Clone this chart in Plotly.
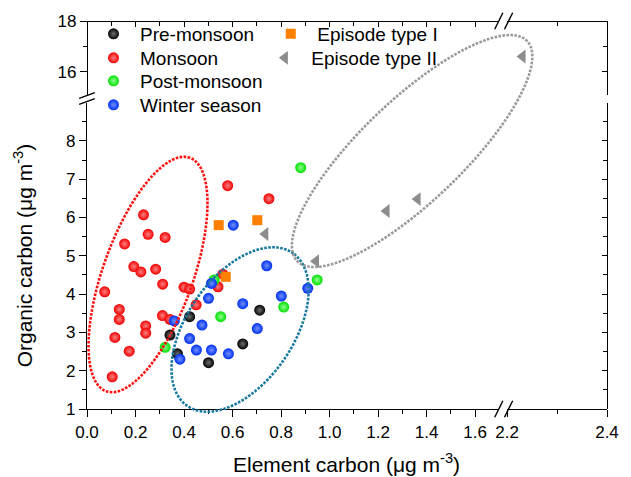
import numpy as np
import plotly.graph_objects as go

# ---------------- data (EC, OC in ug m-3) ----------------
pre_ec = [0.712, 0.423, 0.342, 0.642, 0.373, 0.501]
pre_oc = [3.58, 3.41, 2.93, 2.70, 2.44, 2.21]

mon_ec = [0.580, 0.750, 0.233, 0.252, 0.322, 0.155, 0.193, 0.222, 0.283, 0.312,
          0.560, 0.540, 0.400, 0.423, 0.073, 0.450, 0.311, 0.342, 0.133, 0.133,
          0.242, 0.242, 0.115, 0.174, 0.104]
mon_oc = [6.83, 6.49, 6.07, 5.56, 5.48, 5.31, 4.72, 4.58, 4.65, 4.26,
          4.52, 4.19, 4.18, 4.13, 4.06, 3.72, 3.44, 3.34, 3.60, 3.34,
          3.17, 2.98, 2.87, 2.51, 1.84]

post_ec = [0.881, 0.949, 0.524, 0.811, 0.551, 0.322]
post_oc = [7.30, 4.37, 4.37, 3.66, 3.41, 2.61]

win_ec = [0.603, 0.741, 0.513, 0.910, 0.501, 0.801, 0.642, 0.360, 0.474, 0.702,
          0.423, 0.451, 0.513, 0.583, 0.383]
win_oc = [5.80, 4.74, 4.28, 4.15, 3.89, 3.95, 3.75, 3.30, 3.19, 3.10,
          2.84, 2.54, 2.54, 2.44, 2.30]

ep1_ec = [0.543, 0.702, 0.572]
ep1_oc = [5.80, 5.93, 4.45]

ep2_ec = [0.735, 0.944, 1.235, 1.363, 2.231]
ep2_oc = [5.57, 4.86, 6.17, 6.48, 16.60]

x_ticks_left = [0.0, 0.2, 0.4, 0.6, 0.8, 1.0, 1.2, 1.4, 1.6]
x_ticks_right = [2.2, 2.4]
y_ticks_low = [1, 2, 3, 4, 5, 6, 7, 8]
y_ticks_high = [16, 18]

# ---------------- layout geometry ----------------
W, H = 631, 477
ML, MR, MT, MB = 87, 13, 21, 68
PW, PH = W - ML - MR, H - MT - MB
SX1, SX2, SY1, SY2 = 247.7, 510.0, 38.3, 25.35
X1R, X2R, Y1R, Y2R = [0, 1.7], [2.2, 2.4], [1, 9], [15.1, 18]
x1_dom = [0, (X1R[1] - X1R[0]) * SX1 / PW]
x2_dom = [1 - (X2R[1] - X2R[0]) * SX2 / PW, 1]
y1_dom = [0, (Y1R[1] - Y1R[0]) * SY1 / PH]
y2_dom = [1 - (Y2R[1] - Y2R[0]) * SY2 / PH, 1]

FONT = "Liberation Sans, Arial, sans-serif"
ITEMW = 43


def px2paper(x, y):
    """pixel in image coords -> paper coords of plot area"""
    return (x - ML) / PW, (H - MB - y) / PH


fig = go.Figure()

# (name, x, y, legend id, legend text-left px, legend row centre px, marker)
series = [
    ("Monsoon", mon_ec, mon_oc, "legend2", 140, 59,
     dict(symbol="circle", size=11, color="#f00000", gradient=dict(type="radial", color="#ff8080"))),
    ("Pre-monsoon", pre_ec, pre_oc, "legend", 140, 35,
     dict(symbol="circle", size=11, color="#000000", gradient=dict(type="radial", color="#707070"))),
    ("Post-monsoon", post_ec, post_oc, "legend3", 140, 82,
     dict(symbol="circle", size=11, color="#00e000", gradient=dict(type="radial", color="#90ff90"))),
    ("Winter season", win_ec, win_oc, "legend4", 140, 106,
     dict(symbol="circle", size=11, color="#0030f0", gradient=dict(type="radial", color="#7090ff"))),
    ("Episode type I", ep1_ec, ep1_oc, "legend5", 321, 35,
     dict(symbol="square", size=10, color="#ff8000")),
    ("Episode type II", ep2_ec, ep2_oc, "legend6", 315, 59,
     dict(symbol="triangle-left", size=12, color="#8c8c8c")),
]

legends = {}
for name, xs, ys, leg, tx, ty, mk in series:
    lo = [(x, y) for x, y in zip(xs, ys) if x <= X1R[1] and y <= Y1R[1]]
    hi = [(x, y) for x, y in zip(xs, ys) if x >= X2R[0] and y >= Y2R[0]]
    mk = dict(mk, line=dict(width=0))
    if lo:
        fig.add_trace(go.Scatter(x=[p[0] for p in lo], y=[p[1] for p in lo], mode="markers",
                                 name=name, legend=leg, marker=mk,
                                 xaxis="x", yaxis="y", cliponaxis=False))
    if hi:
        fig.add_trace(go.Scatter(x=[p[0] for p in hi], y=[p[1] for p in hi], mode="markers",
                                 name=name, legend=leg, showlegend=not lo, marker=mk,
                                 xaxis="x2", yaxis="y2", cliponaxis=False))
    lx, ly = px2paper(tx - ITEMW - 10, ty - 20)
    legends[leg] = dict(x=lx, y=ly, bgcolor="rgba(0,0,0,0)", borderwidth=0,
                        xanchor="left", yanchor="top", itemwidth=ITEMW,
                        font=dict(family=FONT, size=19, color="black"))

# empty traces so that the mirror (top / right) axes are drawn
for xa, ya in [("x3", "y"), ("x", "y3"), ("x4", "y2"), ("x2", "y4")]:
    fig.add_trace(go.Scatter(x=[None], y=[None], xaxis=xa, yaxis=ya, showlegend=False,
                             hoverinfo="skip", mode="markers"))

tick_common = dict(showline=True, linecolor="black", linewidth=1.3, showgrid=False,
                   zeroline=False, ticklen=7, tickwidth=1.3, tickcolor="black",
                   tickfont=dict(family=FONT, size=17, color="black"))


def minor(vals, side):
    return dict(tickmode="array", tickvals=vals, ticks=side, ticklen=4,
                tickwidth=1.3, tickcolor="black", showgrid=False)


x1_minor = [round(v + 0.1, 1) for v in x_ticks_left[:-1]]
x2_minor = [2.3]
y1_minor = [v + 0.5 for v in y_ticks_low]
y2_minor = [17]

fig.update_layout(
    xaxis=dict(tick_common, domain=x1_dom, range=X1R, anchor="y", ticks="outside",
               tickmode="array", tickvals=x_ticks_left, tickformat=".1f",
               minor=minor(x1_minor, "outside")),
    xaxis2=dict(tick_common, domain=x2_dom, range=X2R, anchor="free", position=0,
                ticks="outside", tickmode="array", tickvals=x_ticks_right, tickformat=".1f",
                minor=minor(x2_minor, "outside")),
    xaxis3=dict(tick_common, overlaying="x", range=X1R, side="top", anchor="free", position=1,
                ticks="inside", ticklen=5, tickmode="array", tickvals=x_ticks_left,
                showticklabels=False, minor=minor(x1_minor, "inside")),
    xaxis4=dict(tick_common, overlaying="x2", range=X2R, side="top", anchor="free", position=1,
                ticks="inside", ticklen=5, tickmode="array", tickvals=x_ticks_right,
                showticklabels=False, minor=minor(x2_minor, "inside")),
    yaxis=dict(tick_common, domain=y1_dom, range=Y1R, anchor="x", ticks="outside",
               tickmode="array", tickvals=y_ticks_low, minor=minor(y1_minor, "outside")),
    yaxis2=dict(tick_common, domain=y2_dom, range=Y2R, anchor="free", position=0,
                ticks="outside", tickmode="array", tickvals=y_ticks_high,
                minor=minor(y2_minor, "outside")),
    yaxis3=dict(tick_common, overlaying="y", range=Y1R, side="right", anchor="free", position=1,
                ticks="inside", ticklen=5, tickmode="array", tickvals=y_ticks_low,
                showticklabels=False, minor=minor(y1_minor, "inside")),
    yaxis4=dict(tick_common, overlaying="y2", range=Y2R, side="right", anchor="free", position=1,
                ticks="inside", ticklen=5, tickmode="array", tickvals=y_ticks_high,
                showticklabels=False, minor=minor(y2_minor, "inside")),
)

# ---------------- ellipses (pixel params relative to plot bottom-left) ----------------
ELLIPSES = [
    dict(cx=62.3, cy=134.5, a=124.3, b=45.8, ang=69.8, color="#ff1010"),
    dict(cx=156.3, cy=79.5, a=93.5, b=54.0, ang=54.3, color="#17799f"),
    dict(cx=332.0, cy=258.0, a=160.9, b=51.3, ang=43.0, color="#9a9a9a"),
]
shapes = []
t = np.linspace(0, 2 * np.pi, 181)
for e in ELLIPSES:
    th = np.radians(e["ang"])
    px = e["cx"] + e["a"] * np.cos(t) * np.cos(th) - e["b"] * np.sin(t) * np.sin(th)
    py = e["cy"] + e["a"] * np.cos(t) * np.sin(th) + e["b"] * np.sin(t) * np.cos(th)
    pts = [f"{x / PW:.5f},{y / PH:.5f}" for x, y in zip(px, py)]
    path = "M " + " L ".join(pts) + " Z"
    shapes.append(dict(type="path", path=path, xref="paper", yref="paper", layer="above",
                       line=dict(color=e["color"], width=2.6, dash="2.6px,1.4px")))


# ---------------- axis break marks ----------------
def slash(cx, cy, dx, dy):
    x0, y0 = px2paper(cx - dx, cy + dy)
    x1, y1 = px2paper(cx + dx, cy - dy)
    return dict(type="line", xref="paper", yref="paper", x0=x0, y0=y0, x1=x1, y1=y1,
                line=dict(color="black", width=1.4), layer="above")


for cx in (507.5, 517.5):
    shapes.append(slash(cx, H - MB, 4.2, 8.3))
    shapes.append(slash(cx, MT, 4.2, 8.3))
for cy in (95.5, 101.5):
    shapes.append(slash(ML, cy, 8.0, 2.8))

fig.update_layout(shapes=shapes)

# ---------------- titles ----------------
ax_x, ax_y = px2paper(352, 463)
ay_x, ay_y = px2paper(22, 255)
fig.add_annotation(text="Element carbon (μg m<sup>-3</sup>)", x=ax_x, y=ax_y, xref="paper",
                   yref="paper", showarrow=False, xanchor="center", yanchor="middle",
                   font=dict(family=FONT, size=21, color="black"))
fig.add_annotation(text="Organic carbon (μg m<sup>-3</sup>)", x=ay_x, y=ay_y, xref="paper",
                   yref="paper", showarrow=False, xanchor="center", yanchor="middle",
                   textangle=-90, font=dict(family=FONT, size=21, color="black"))

fig.update_layout(
    width=W, height=H,
    margin=dict(l=ML, r=MR, t=MT, b=MB, pad=0),
    paper_bgcolor="white", plot_bgcolor="rgba(0,0,0,0)",
    font=dict(family=FONT, color="black"),
    showlegend=True,
    **legends,
)

fig.write_html("out.html")
